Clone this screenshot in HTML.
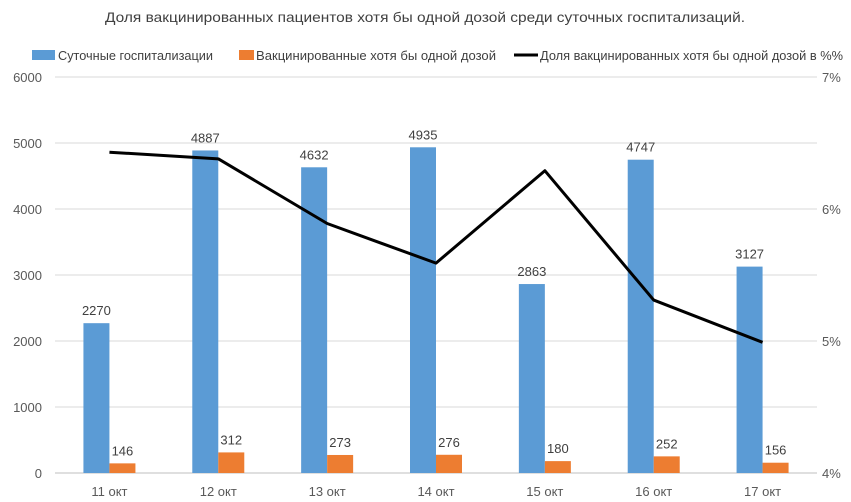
<!DOCTYPE html>
<html><head><meta charset="utf-8"><style>
body{margin:0;background:#fff;}
svg{display:block;font-family:"Liberation Sans",sans-serif;}
</style></head><body>
<svg id="chart" width="851" height="502">
<text x="425" y="22" text-anchor="middle" font-size="14" fill="#404040" textLength="640" lengthAdjust="spacingAndGlyphs">Доля вакцинированных пациентов хотя бы одной дозой среди суточных госпитализаций.</text>
<g>
<rect x="32" y="50" width="23" height="10" fill="#5b9bd5"/>
<text x="58" y="60" font-size="13" fill="#404040" textLength="155" lengthAdjust="spacingAndGlyphs">Суточные госпитализации</text>
<rect x="239" y="50" width="15" height="10" fill="#ed7d31"/>
<text x="256" y="60" font-size="13" fill="#404040" textLength="240" lengthAdjust="spacingAndGlyphs">Вакцинированные хотя бы одной дозой</text>
<line x1="514" y1="55" x2="538" y2="55" stroke="#000" stroke-width="3"/>
<text x="540" y="60" font-size="13" fill="#404040" textLength="303" lengthAdjust="spacingAndGlyphs">Доля вакцинированных хотя бы одной дозой в %%</text>
</g>
<g id="plot"></g>
</svg>
<script>
const categories=["11 окт","12 окт","13 окт","14 окт","15 окт","16 окт","17 окт"];
const hospitalizations=[2270,4887,4632,4935,2863,4747,3127];
const vaccinated=[146,312,273,276,180,252,156];
const sharePct=[6.43,6.38,5.89,5.59,6.29,5.31,4.99];
const leftTicks=[0,1000,2000,3000,4000,5000,6000];
const rightTicks=[4,5,6,7];

const NS="http://www.w3.org/2000/svg";
const g=document.getElementById('plot');
const L=55,R=817,T=77,B=473;
const yL=v=>B-(v/6000)*(B-T);
const yR=v=>B-((v-4)/3)*(B-T);
const cw=(R-L)/categories.length;
const xc=i=>L+cw*(i+0.5);
function mk(tag,attrs,txt){const e=document.createElementNS(NS,tag);for(const k in attrs)e.setAttribute(k,attrs[k]);if(txt!==undefined)e.textContent=txt;g.appendChild(e);return e;}

leftTicks.forEach(t=>{
  const l=mk('line',{x1:L,x2:R,y1:yL(t),y2:yL(t),stroke:t===0?'#bfbfbf':'#d9d9d9','stroke-width':1});
  
  
  const tx=mk('text',{x:42,y:yL(t)+5,'text-anchor':'end','font-size':13,fill:'#595959'},String(t));
  
  
});
rightTicks.forEach(t=>{
  const tx=mk('text',{x:822,y:yR(t)+5,'font-size':13,fill:'#595959'},t+'%');
  
  
});
const bw=26;
categories.forEach((c,i)=>{
  const x=xc(i);
  const b1=mk('rect',{x:x-bw,y:yL(hospitalizations[i]),width:bw,height:B-yL(hospitalizations[i]),fill:'#5b9bd5'});
  
  
  const b2=mk('rect',{x:x,y:yL(vaccinated[i]),width:bw,height:B-yL(vaccinated[i]),fill:'#ed7d31'});
  
  
  const l1=mk('text',{x:x-bw/2,y:yL(hospitalizations[i])-8,'text-anchor':'middle','font-size':13,fill:'#404040'},String(hospitalizations[i]));
  
  
  const l2=mk('text',{x:x+bw/2,y:yL(vaccinated[i])-8,'text-anchor':'middle','font-size':13,fill:'#404040'},String(vaccinated[i]));
  
  
  const cl=mk('text',{x:x,y:496,'text-anchor':'middle','font-size':13,fill:'#595959'},c);
  
  
});
const pts=sharePct.map((v,i)=>xc(i)+','+yR(v)).join(' ');
const pl=mk('polyline',{points:pts,fill:'none',stroke:'#000','stroke-width':3,'stroke-linejoin':'round'});


</script>
</body></html>
